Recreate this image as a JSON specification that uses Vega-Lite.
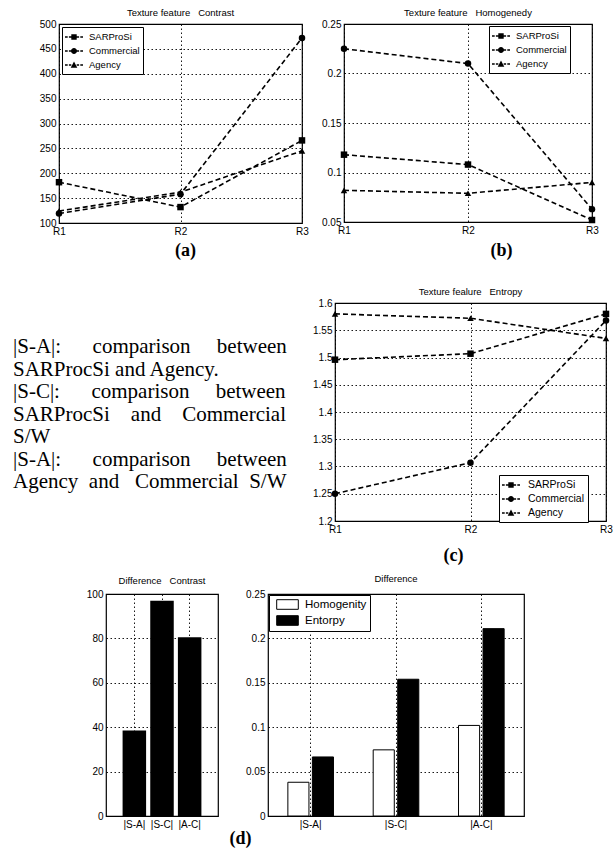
{
  "$schema": "https://vega.github.io/schema/vega-lite/v6.json",
  "padding": {"left": 13, "top": 6, "right": 0, "bottom": 0},
  "background": "white",
  "spacing": 0,
  "resolve": {"scale": {"shape": "independent", "fill": "independent", "x": "independent", "y": "independent"}, "legend": {"shape": "independent", "fill": "independent"}},
  "datasets": {
    "texture": [
      {"feature": "Contrast", "series": "SARProSi", "region": "R1", "value": 182},
      {"feature": "Contrast", "series": "SARProSi", "region": "R2", "value": 132},
      {"feature": "Contrast", "series": "SARProSi", "region": "R3", "value": 266},
      {"feature": "Contrast", "series": "Commercial", "region": "R1", "value": 119},
      {"feature": "Contrast", "series": "Commercial", "region": "R2", "value": 158},
      {"feature": "Contrast", "series": "Commercial", "region": "R3", "value": 472},
      {"feature": "Contrast", "series": "Agency", "region": "R1", "value": 124},
      {"feature": "Contrast", "series": "Agency", "region": "R2", "value": 162},
      {"feature": "Contrast", "series": "Agency", "region": "R3", "value": 245},
      {"feature": "Homogeneity", "series": "SARProSi", "region": "R1", "value": 0.118},
      {"feature": "Homogeneity", "series": "SARProSi", "region": "R2", "value": 0.108},
      {"feature": "Homogeneity", "series": "SARProSi", "region": "R3", "value": 0.052},
      {"feature": "Homogeneity", "series": "Commercial", "region": "R1", "value": 0.225},
      {"feature": "Homogeneity", "series": "Commercial", "region": "R2", "value": 0.21},
      {"feature": "Homogeneity", "series": "Commercial", "region": "R3", "value": 0.063},
      {"feature": "Homogeneity", "series": "Agency", "region": "R1", "value": 0.082},
      {"feature": "Homogeneity", "series": "Agency", "region": "R2", "value": 0.079},
      {"feature": "Homogeneity", "series": "Agency", "region": "R3", "value": 0.09},
      {"feature": "Entropy", "series": "SARProSi", "region": "R1", "value": 1.496},
      {"feature": "Entropy", "series": "SARProSi", "region": "R2", "value": 1.507},
      {"feature": "Entropy", "series": "SARProSi", "region": "R3", "value": 1.58},
      {"feature": "Entropy", "series": "Commercial", "region": "R1", "value": 1.25},
      {"feature": "Entropy", "series": "Commercial", "region": "R2", "value": 1.307},
      {"feature": "Entropy", "series": "Commercial", "region": "R3", "value": 1.568},
      {"feature": "Entropy", "series": "Agency", "region": "R1", "value": 1.58},
      {"feature": "Entropy", "series": "Agency", "region": "R2", "value": 1.572},
      {"feature": "Entropy", "series": "Agency", "region": "R3", "value": 1.535}
    ],
    "diff": [
      {"metric": "Contrast", "pair": "|S-A|", "value": 38.5},
      {"metric": "Contrast", "pair": "|S-C|", "value": 97},
      {"metric": "Contrast", "pair": "|A-C|", "value": 80.5},
      {"metric": "Homogenity", "pair": "|S-A|", "value": 0.038},
      {"metric": "Homogenity", "pair": "|S-C|", "value": 0.0745},
      {"metric": "Homogenity", "pair": "|A-C|", "value": 0.102},
      {"metric": "Entorpy", "pair": "|S-A|", "value": 0.0665},
      {"metric": "Entorpy", "pair": "|S-C|", "value": 0.154},
      {"metric": "Entorpy", "pair": "|A-C|", "value": 0.211}
    ],
    "notes": [
      {"line": 1, "text": "|S-A|:\u00a0\u00a0\u00a0\u00a0\u00a0\u00a0comparison\u00a0\u00a0\u00a0\u00a0\u00a0between"},
      {"line": 2, "text": "SARProcSi and Agency."},
      {"line": 3, "text": "|S-C|:\u00a0\u00a0\u00a0\u00a0\u00a0\u00a0comparison\u00a0\u00a0\u00a0\u00a0\u00a0between"},
      {"line": 4, "text": "SARProcSi\u00a0\u00a0\u00a0\u00a0and\u00a0\u00a0\u00a0\u00a0Commercial"},
      {"line": 5, "text": "S/W"},
      {"line": 6, "text": "|S-A|:\u00a0\u00a0\u00a0\u00a0\u00a0\u00a0comparison\u00a0\u00a0\u00a0\u00a0\u00a0between"},
      {"line": 7, "text": "Agency\u00a0\u00a0and\u00a0\u00a0\u00a0Commercial\u00a0\u00a0S/W"}
    ]
  },
  "vconcat": [
    {
      "bounds": "flush",
      "spacing": 42,
      "resolve": {"scale": {"shape": "independent", "x": "independent", "y": "independent"}, "legend": {"shape": "independent"}},
      "hconcat": [
        {"width": 4, "height": 261, "view": {"stroke": null}, "data": {"values": []}, "mark": "point", "encoding": {}},
        {
          "width": 243, "height": 199,
          "title": {"text": "Texture feature\u00a0\u00a0\u00a0Contrast", "offset": 2},
          "data": {"name": "texture"},
          "transform": [{"filter": "datum.feature === 'Contrast'"}],
          "encoding": {
            "x": {"field": "region", "type": "ordinal", "scale": {"type": "point", "padding": 0}, "axis": {"title": "(a)", "titleX": 126, "titleY": 18, "labelAngle": 0, "grid": true}},
            "y": {"field": "value", "type": "quantitative", "scale": {"domain": [100, 500], "nice": false, "zero": false}, "axis": {"title": null, "values": [100, 150, 200, 250, 300, 350, 400, 450, 500]}}
          },
          "resolve": {"scale": {"shape": "independent"}, "legend": {"shape": "independent"}},
          "layer": [
            {"mark": {"type": "line", "color": "black", "strokeDash": [5, 3], "strokeWidth": 1.6}, "encoding": {"detail": {"field": "series"}}},
            {"mark": {"type": "point", "filled": true, "color": "black", "size": 42, "opacity": 1},
             "encoding": {"shape": {"field": "series", "type": "nominal", "scale": {"domain": ["SARProSi", "Commercial", "Agency"], "range": ["square", "circle", "triangle-up"]}, "legend": null}}},
            {"transform": [{"filter": "false"}],
             "mark": {"type": "point", "filled": true, "color": "black", "opacity": 1},
             "encoding": {"shape": {"field": "series", "type": "nominal",
               "scale": {"domain": ["SARProSi", "Commercial", "Agency"], "range": [
                 "M-1.5,-0.13H-1.05V0.13H-1.5ZM-0.85,-0.13H-0.45V0.13H-0.85ZM0.45,-0.13H0.85V0.13H0.45ZM1.05,-0.13H1.5V0.13H1.05ZM-0.45,-0.45H0.45V0.45H-0.45Z",
                 "M-1.5,-0.13H-1.05V0.13H-1.5ZM-0.85,-0.13H-0.45V0.13H-0.85ZM0.45,-0.13H0.85V0.13H0.45ZM1.05,-0.13H1.5V0.13H1.05ZM-0.5,0A0.5,0.5,0,1,1,0.5,0A0.5,0.5,0,1,1,-0.5,0Z",
                 "M-1.5,-0.13H-1.05V0.13H-1.5ZM-0.85,-0.13H-0.45V0.13H-0.85ZM0.45,-0.13H0.85V0.13H0.45ZM1.05,-0.13H1.5V0.13H1.05ZM0,-0.6L0.55,0.45H-0.55Z"]},
               "legend": {"title": null, "orient": "none", "legendX": 3, "legendY": 3}}}}
          ]
        },
        {
          "width": 248, "height": 198,
          "title": {"text": "Texture feature\u00a0\u00a0\u00a0Homogenedy", "offset": 2},
          "data": {"name": "texture"},
          "transform": [{"filter": "datum.feature === 'Homogeneity'"}],
          "encoding": {
            "x": {"field": "region", "type": "ordinal", "scale": {"type": "point", "padding": 0}, "axis": {"title": "(b)", "titleX": 157, "titleY": 19, "labelAngle": 0, "grid": true}},
            "y": {"field": "value", "type": "quantitative", "scale": {"domain": [0.05, 0.25], "nice": false, "zero": false}, "axis": {"title": null, "values": [0.05, 0.1, 0.15, 0.2, 0.25], "format": "~g"}}
          },
          "resolve": {"scale": {"shape": "independent"}, "legend": {"shape": "independent"}},
          "layer": [
            {"mark": {"type": "line", "color": "black", "strokeDash": [5, 3], "strokeWidth": 1.6}, "encoding": {"detail": {"field": "series"}}},
            {"mark": {"type": "point", "filled": true, "color": "black", "size": 42, "opacity": 1},
             "encoding": {"shape": {"field": "series", "type": "nominal", "scale": {"domain": ["SARProSi", "Commercial", "Agency"], "range": ["square", "circle", "triangle-up"]}, "legend": null}}},
            {"transform": [{"filter": "false"}],
             "mark": {"type": "point", "filled": true, "color": "black", "opacity": 1},
             "encoding": {"shape": {"field": "series", "type": "nominal",
               "scale": {"domain": ["SARProSi", "Commercial", "Agency"], "range": [
                 "M-1.5,-0.13H-1.05V0.13H-1.5ZM-0.85,-0.13H-0.45V0.13H-0.85ZM0.45,-0.13H0.85V0.13H0.45ZM1.05,-0.13H1.5V0.13H1.05ZM-0.45,-0.45H0.45V0.45H-0.45Z",
                 "M-1.5,-0.13H-1.05V0.13H-1.5ZM-0.85,-0.13H-0.45V0.13H-0.85ZM0.45,-0.13H0.85V0.13H0.45ZM1.05,-0.13H1.5V0.13H1.05ZM-0.5,0A0.5,0.5,0,1,1,0.5,0A0.5,0.5,0,1,1,-0.5,0Z",
                 "M-1.5,-0.13H-1.05V0.13H-1.5ZM-0.85,-0.13H-0.45V0.13H-0.85ZM0.45,-0.13H0.85V0.13H0.45ZM1.05,-0.13H1.5V0.13H1.05ZM0,-0.6L0.55,0.45H-0.55Z"]},
               "legend": {"title": null, "orient": "none", "legendX": 145, "legendY": 2}}}}
          ]
        }
      ]
    },
    {
      "bounds": "flush",
      "spacing": 42,
      "resolve": {"scale": {"shape": "independent", "x": "independent", "y": "independent"}, "legend": {"shape": "independent"}},
      "hconcat": [
        {
          "width": 280, "height": 269, "view": {"stroke": null},
          "data": {"name": "notes"},
          "mark": {"type": "text", "align": "left", "baseline": "middle", "font": "Liberation Serif", "fontSize": 21, "color": "black"},
          "encoding": {
            "y": {"field": "line", "type": "ordinal", "scale": {"type": "point", "padding": 0, "range": [44, 179]}, "axis": null},
            "x": {"datum": 0, "type": "quantitative", "scale": {"domain": [0, 1]}, "axis": null},
            "text": {"field": "text"}
          }
        },
        {
          "width": 271, "height": 218,
          "title": {"text": "Texture fealure\u00a0\u00a0\u00a0Entropy", "offset": 2},
          "data": {"name": "texture"},
          "transform": [{"filter": "datum.feature === 'Entropy'"}],
          "encoding": {
            "x": {"field": "region", "type": "ordinal", "scale": {"type": "point", "padding": 0}, "axis": {"title": "(c)", "titleX": 118, "titleY": 25, "labelAngle": 0, "grid": true}},
            "y": {"field": "value", "type": "quantitative", "scale": {"domain": [1.2, 1.6], "nice": false, "zero": false}, "axis": {"title": null, "values": [1.2, 1.25, 1.3, 1.35, 1.4, 1.45, 1.5, 1.55, 1.6], "format": "~g"}}
          },
          "resolve": {"scale": {"shape": "independent"}, "legend": {"shape": "independent"}},
          "layer": [
            {"mark": {"type": "line", "color": "black", "strokeDash": [5, 3], "strokeWidth": 1.6}, "encoding": {"detail": {"field": "series"}}},
            {"mark": {"type": "point", "filled": true, "color": "black", "size": 42, "opacity": 1},
             "encoding": {"shape": {"field": "series", "type": "nominal", "scale": {"domain": ["SARProSi", "Commercial", "Agency"], "range": ["square", "circle", "triangle-up"]}, "legend": null}}},
            {"transform": [{"filter": "false"}],
             "mark": {"type": "point", "filled": true, "color": "black", "opacity": 1},
             "encoding": {"shape": {"field": "series", "type": "nominal",
               "scale": {"domain": ["SARProSi", "Commercial", "Agency"], "range": [
                 "M-1.5,-0.13H-1.05V0.13H-1.5ZM-0.85,-0.13H-0.45V0.13H-0.85ZM0.45,-0.13H0.85V0.13H0.45ZM1.05,-0.13H1.5V0.13H1.05ZM-0.45,-0.45H0.45V0.45H-0.45Z",
                 "M-1.5,-0.13H-1.05V0.13H-1.5ZM-0.85,-0.13H-0.45V0.13H-0.85ZM0.45,-0.13H0.85V0.13H0.45ZM1.05,-0.13H1.5V0.13H1.05ZM-0.5,0A0.5,0.5,0,1,1,0.5,0A0.5,0.5,0,1,1,-0.5,0Z",
                 "M-1.5,-0.13H-1.05V0.13H-1.5ZM-0.85,-0.13H-0.45V0.13H-0.85ZM0.45,-0.13H0.85V0.13H0.45ZM1.05,-0.13H1.5V0.13H1.05ZM0,-0.6L0.55,0.45H-0.55Z"]},
               "legend": {"title": null, "orient": "none", "legendX": 164, "legendY": 172, "labelFontSize": 10.5, "labelOffset": 10}}}}
          ]
        }
      ]
    },
    {
      "bounds": "flush",
      "spacing": 50,
      "resolve": {"scale": {"fill": "independent", "x": "independent", "y": "independent"}, "legend": {"fill": "independent"}},
      "hconcat": [
        {"width": 43, "height": 1, "view": {"stroke": null}, "data": {"values": []}, "mark": "point", "encoding": {}},
        {
          "width": 112, "height": 222,
          "title": {"text": "Difference\u00a0\u00a0\u00a0Contrast", "offset": 4},
          "data": {"name": "diff"},
          "transform": [{"filter": "datum.metric === 'Contrast'"}],
          "mark": {"type": "bar", "color": "black"},
          "encoding": {
            "x": {"field": "pair", "type": "nominal", "sort": ["|S-A|", "|S-C|", "|A-C|"], "scale": {"paddingInner": 0.15, "paddingOuter": 0.6}, "axis": {"title": null, "labelAngle": 0, "grid": true, "bandPosition": 0.5}},
            "y": {"field": "value", "type": "quantitative", "scale": {"domain": [0, 100], "nice": false}, "axis": {"title": null, "values": [0, 20, 40, 60, 80, 100]}}
          }
        },
        {
          "width": 256, "height": 222,
          "title": {"text": "Difference", "offset": 6},
          "data": {"name": "diff"},
          "transform": [{"filter": "datum.metric !== 'Contrast'"}],
          "mark": {"type": "bar", "stroke": "black", "strokeWidth": 1, "opacity": 1},
          "encoding": {
            "x": {"field": "pair", "type": "nominal", "sort": ["|S-A|", "|S-C|", "|A-C|"], "scale": {"paddingInner": 0, "paddingOuter": 0}, "axis": {"title": "(d)", "titleX": -28, "titleY": 13, "labelAngle": 0, "grid": true, "bandPosition": 0.5}},
            "xOffset": {"field": "metric", "type": "nominal", "sort": ["Homogenity", "Entorpy"], "scale": {"paddingInner": 0.14, "paddingOuter": 0.81}},
            "y": {"field": "value", "type": "quantitative", "scale": {"domain": [0, 0.25], "nice": false}, "axis": {"title": null, "values": [0, 0.05, 0.1, 0.15, 0.2, 0.25], "format": "~g"}},
            "fill": {"field": "metric", "type": "nominal", "scale": {"domain": ["Homogenity", "Entorpy"], "range": ["white", "black"]},
              "legend": {"title": null, "orient": "top-left", "offset": 1, "symbolType": "M-1.8,-0.8H1.8V0.8H-1.8Z", "symbolSize": 144, "symbolOffset": 9, "labelOffset": 11, "labelFontSize": 11.5, "symbolStrokeColor": "black", "symbolStrokeWidth": 1,
                "encode": {"symbols": {"update": {"stroke": {"value": "black"}, "opacity": {"value": 1}}}}}}
          }
        }
      ]
    }
  ],
  "config": {
    "font": "Liberation Sans",
    "view": {"stroke": "black", "strokeWidth": 1.2},
    "axis": {
      "labelFont": "Liberation Sans", "labelFontSize": 10, "labelColor": "black", "labelPadding": 3,
      "labelOverlap": false, "labelFlush": false,
      "domain": false, "ticks": false,
      "gridColor": "black", "gridDash": [1.5, 2.5], "gridOpacity": 1, "gridWidth": 0.9,
      "titleFont": "Liberation Serif", "titleFontSize": 18, "titleFontWeight": "bold", "titleColor": "black", "titleBaseline": "top", "titleAlign": "center"
    },
    "title": {"font": "Liberation Sans", "fontSize": 9.5, "fontWeight": "normal", "color": "black", "baseline": "alphabetic", "frame": "group"},
    "legend": {
      "labelFont": "Liberation Sans", "labelFontSize": 9.5, "labelColor": "black",
      "strokeColor": "black", "fillColor": "white", "padding": 3,
      "symbolOffset": 2, "labelOffset": 8, "symbolSize": 144, "rowPadding": 1
    }
  }
}
